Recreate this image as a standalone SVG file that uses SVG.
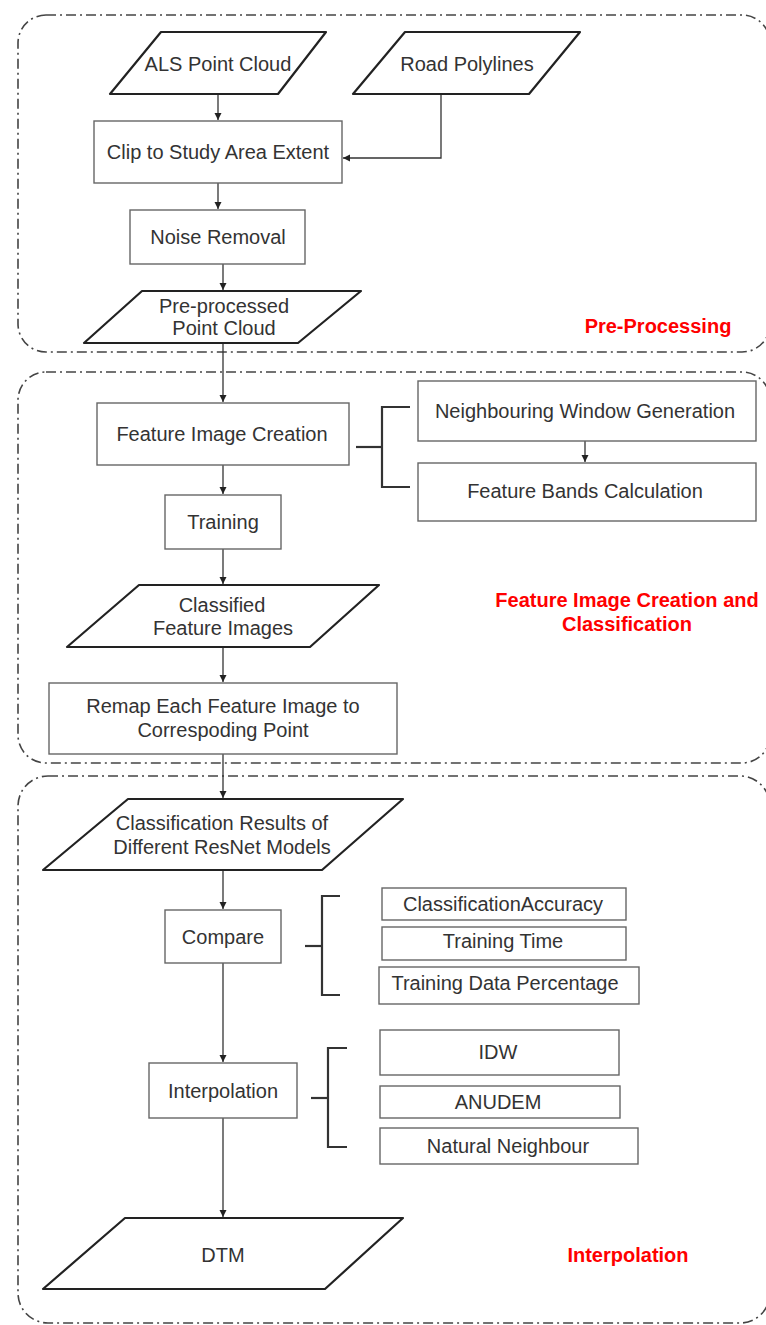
<svg xmlns="http://www.w3.org/2000/svg" width="766" height="1325" viewBox="0 0 766 1325">
  <defs>
    <marker id="arrow" viewBox="0 0 10 10" refX="10" refY="5" markerWidth="7" markerHeight="8" markerUnits="userSpaceOnUse" orient="auto">
      <path d="M0,0 L10,5 L0,10 z" fill="#222"/>
    </marker>
    <style>
      .section { fill: none; stroke: #444; stroke-width: 1.6; stroke-dasharray: 10 4 2 4; }
      .proc { fill: #fff; stroke: #666; stroke-width: 1.4; }
      .data { fill: #fff; stroke: #222; stroke-width: 2.2; stroke-linejoin: round; }
      .lbl { font-family: "Liberation Sans", Arial, sans-serif; font-size: 20px; fill: #333; text-anchor: middle; }
      .stage { font-family: "Liberation Sans", Arial, sans-serif; font-size: 20px; font-weight: bold; fill: #f00; text-anchor: middle; }
      .conn { fill: none; stroke: #333; stroke-width: 1.3; }
      .brace { fill: none; stroke: #333; stroke-width: 2.2; }
    </style>
  </defs>

  <!-- stage frames -->
  <g id="stages">
    <rect class="section" x="18" y="15" width="752" height="337" rx="28"/>
    <rect class="section" x="18" y="372" width="752" height="391" rx="28"/>
    <rect class="section" x="18" y="776" width="752" height="547" rx="30"/>
    <text class="stage" x="658" y="333">Pre-Processing</text>
    <text class="stage" x="627" y="607">Feature Image Creation and</text>
    <text class="stage" x="627" y="631">Classification</text>
    <text class="stage" x="628" y="1262">Interpolation</text>
  </g>

  <!-- connectors -->
  <g id="connectors">
    <path class="conn" d="M218 94 V120" marker-end="url(#arrow)"/>
    <path class="conn" d="M441 94 V158 H343" marker-end="url(#arrow)"/>
    <path class="conn" d="M218 183 V209" marker-end="url(#arrow)"/>
    <path class="conn" d="M223 264 V290" marker-end="url(#arrow)"/>
    <path class="conn" d="M223 343 V402" marker-end="url(#arrow)"/>
    <path class="conn" d="M223 465 V494" marker-end="url(#arrow)"/>
    <path class="conn" d="M585 441 V462" marker-end="url(#arrow)"/>
    <path class="conn" d="M223 549 V584" marker-end="url(#arrow)"/>
    <path class="conn" d="M223 647 V682" marker-end="url(#arrow)"/>
    <path class="conn" d="M223 754 V798" marker-end="url(#arrow)"/>
    <path class="conn" d="M223 870 V909" marker-end="url(#arrow)"/>
    <path class="conn" d="M223 963 V1062" marker-end="url(#arrow)"/>
    <path class="conn" d="M223 1118 V1217" marker-end="url(#arrow)"/>
    <!-- brackets -->
    <path class="brace" d="M356 447 H382"/>
    <path class="brace" d="M410 407 H382 V487 H410"/>
    <path class="brace" d="M305 946 H322"/>
    <path class="brace" d="M340 896 H322 V995 H340"/>
    <path class="brace" d="M311 1098 H328"/>
    <path class="brace" d="M347 1048 H328 V1147 H347"/>
  </g>

  <!-- pre-processing -->
  <g id="als-point-cloud">
    <path class="data" d="M161 32 H326 L278 94 H110 Z"/>
    <text class="lbl" x="218" y="71">ALS Point Cloud</text>
  </g>
  <g id="road-polylines">
    <path class="data" d="M405 32 H580 L529 94 H353 Z"/>
    <text class="lbl" x="467" y="71">Road Polylines</text>
  </g>
  <g id="clip">
    <rect class="proc" x="94" y="121" width="248" height="62"/>
    <text class="lbl" x="218" y="159">Clip to Study Area Extent</text>
  </g>
  <g id="noise-removal">
    <rect class="proc" x="130" y="210" width="175" height="54"/>
    <text class="lbl" x="218" y="244">Noise Removal</text>
  </g>
  <g id="preprocessed-cloud">
    <path class="data" d="M142 291 H361 L298 343 H84 Z"/>
    <text class="lbl" x="224" y="313">Pre-processed</text>
    <text class="lbl" x="224" y="335">Point Cloud</text>
  </g>

  <!-- feature image creation and classification -->
  <g id="feature-image-creation">
    <rect class="proc" x="97" y="403" width="252" height="62"/>
    <text class="lbl" x="222" y="441">Feature Image Creation</text>
  </g>
  <g id="window-generation">
    <rect class="proc" x="418" y="381" width="338" height="60"/>
    <text class="lbl" x="585" y="418">Neighbouring Window Generation</text>
  </g>
  <g id="feature-bands">
    <rect class="proc" x="418" y="463" width="338" height="58"/>
    <text class="lbl" x="585" y="498">Feature Bands Calculation</text>
  </g>
  <g id="training">
    <rect class="proc" x="165" y="495" width="116" height="54"/>
    <text class="lbl" x="223" y="529">Training</text>
  </g>
  <g id="classified-images">
    <path class="data" d="M139 585 H379 L310 647 H67 Z"/>
    <text class="lbl" x="222" y="612">Classified</text>
    <text class="lbl" x="223" y="635">Feature Images</text>
  </g>
  <g id="remap">
    <rect class="proc" x="49" y="683" width="348" height="71"/>
    <text class="lbl" x="223" y="713">Remap Each Feature Image to</text>
    <text class="lbl" x="223" y="737">Correspoding Point</text>
  </g>

  <!-- interpolation -->
  <g id="classification-results">
    <path class="data" d="M128 799 H403 L322 870 H43 Z"/>
    <text class="lbl" x="222" y="830">Classification Results of</text>
    <text class="lbl" x="222" y="854">Different ResNet Models</text>
  </g>
  <g id="compare">
    <rect class="proc" x="165" y="910" width="116" height="53"/>
    <text class="lbl" x="223" y="944">Compare</text>
  </g>
  <g id="accuracy">
    <rect class="proc" x="382" y="888" width="244" height="32"/>
    <text class="lbl" x="503" y="911">ClassificationAccuracy</text>
  </g>
  <g id="training-time">
    <rect class="proc" x="382" y="927" width="244" height="33"/>
    <text class="lbl" x="503" y="948">Training Time</text>
  </g>
  <g id="training-data">
    <rect class="proc" x="379" y="967" width="260" height="37"/>
    <text class="lbl" x="505" y="990">Training Data Percentage</text>
  </g>
  <g id="interpolation">
    <rect class="proc" x="149" y="1063" width="148" height="55"/>
    <text class="lbl" x="223" y="1098">Interpolation</text>
  </g>
  <g id="idw">
    <rect class="proc" x="380" y="1030" width="239" height="45"/>
    <text class="lbl" x="498" y="1059">IDW</text>
  </g>
  <g id="anudem">
    <rect class="proc" x="380" y="1086" width="240" height="32"/>
    <text class="lbl" x="498" y="1109">ANUDEM</text>
  </g>
  <g id="natural-neighbour">
    <rect class="proc" x="380" y="1128" width="258" height="36"/>
    <text class="lbl" x="508" y="1153">Natural Neighbour</text>
  </g>
  <g id="dtm">
    <path class="data" d="M125 1218 H403 L325 1289 H43 Z"/>
    <text class="lbl" x="223" y="1262">DTM</text>
  </g>
</svg>
